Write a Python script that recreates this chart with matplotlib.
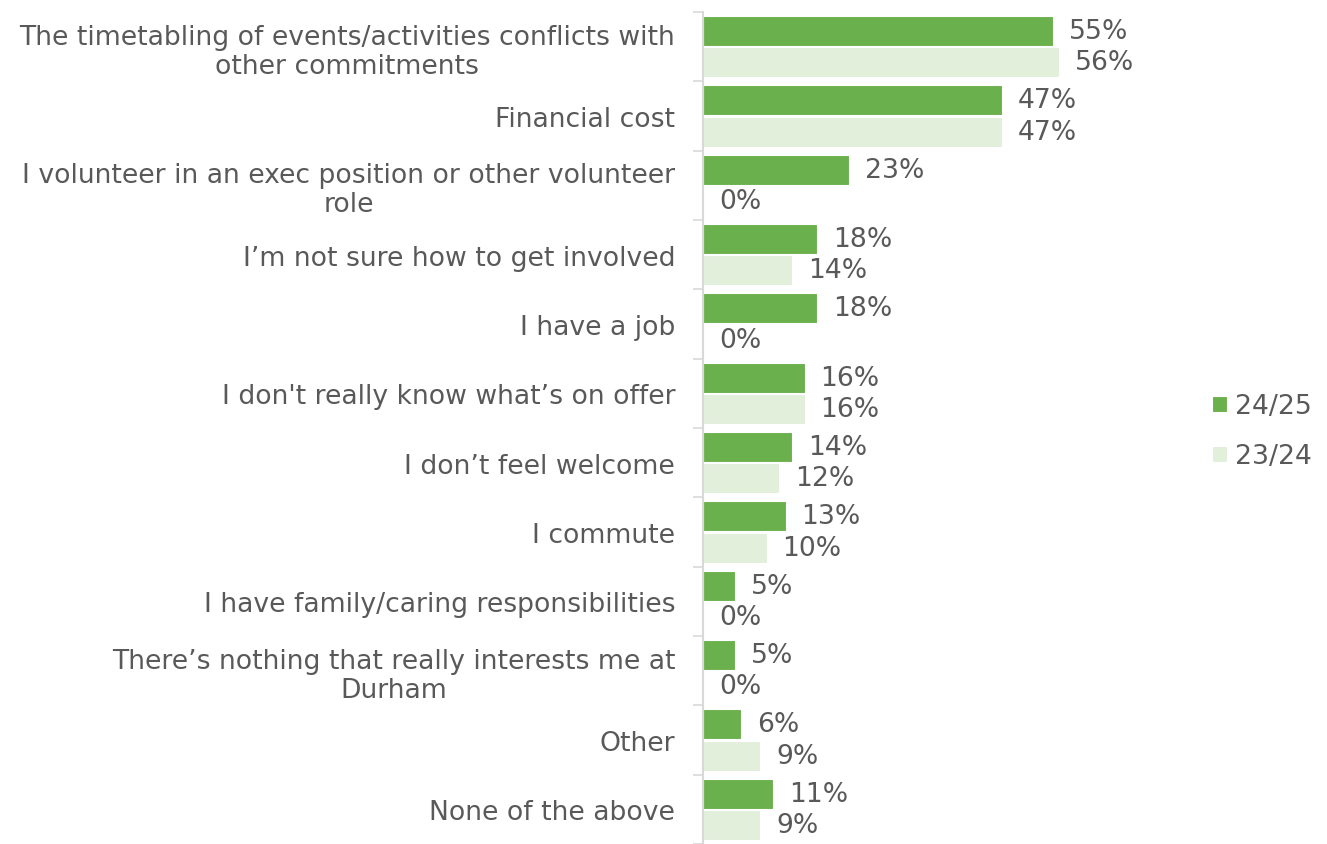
import numpy as np
import matplotlib.pyplot as plt
from matplotlib.ticker import FixedLocator

categories = [
    "The timetabling of events/activities conflicts with\nother commitments",
    "Financial cost",
    "I volunteer in an exec position or other volunteer\nrole",
    "I\u2019m not sure how to get involved",
    "I have a job",
    "I don't really know what\u2019s on offer",
    "I don\u2019t feel welcome",
    "I commute",
    "I have family/caring responsibilities",
    "There\u2019s nothing that really interests me at\nDurham",
    "Other",
    "None of the above",
]
y2425 = [55, 47, 23, 18, 18, 16, 14, 13, 5, 5, 6, 11]
y2324 = [56, 47, 0, 14, 0, 16, 12, 10, 0, 0, 9, 9]
series_names = ["24/25", "23/24"]

dark = "#6AB04C"
light = "#E2EFDA"
txt = "#595959"
fs = 19.2

plt.rcParams['font.family'] = ['DejaVu Sans']
fig = plt.figure(figsize=(13.27, 8.45), dpi=100)
ax = fig.add_axes([703 / 1327, 0.0, 445 / 1327, 1 - 13 / 845])

n = len(categories)
pos = np.arange(n)
h = 0.43
b1 = ax.barh(pos - h / 2 - 0.01, y2425, height=h, color=dark, edgecolor="white", linewidth=0.8, label=series_names[0])
b2 = ax.barh(pos + h / 2 + 0.01, y2324, height=h, color=light, edgecolor="white", linewidth=0.8, label=series_names[1])

for bars, vals in ((b1, y2425), (b2, y2324)):
    for r, v in zip(bars, vals):
        ax.text(v + 2.5, r.get_y() + r.get_height() / 2, f"{v}%", va="center", ha="left",
                fontsize=fs, color=txt)

ax.set_ylim(n - 0.5, -0.5)
ax.set_xlim(0, 70)
ax.set_yticks(pos)
ax.set_yticklabels(categories, fontsize=fs, color=txt, multialignment="center",
                   linespacing=1.15)
ax.yaxis.set_minor_locator(FixedLocator(np.arange(-0.5, n, 1.0)))
ax.tick_params(axis="y", which="major", length=0, pad=20)
ax.tick_params(axis="y", which="minor", length=7, color="#D9D9D9", width=1.2)
ax.set_xticks([])
for s in ["top", "right", "bottom"]:
    ax.spines[s].set_visible(False)
ax.spines["left"].set_color("#D9D9D9")
ax.spines["left"].set_linewidth(1.5)

leg = fig.legend(handles=[b1, b2], labels=series_names, loc="center left",
                 bbox_to_anchor=(1188 / 1327, 1 - 432 / 845), frameon=False,
                 fontsize=fs, handlelength=0.55, handleheight=0.55, handletextpad=0.3,
                 labelspacing=0.9, labelcolor=txt)

fig.savefig("out.png", dpi=100)
